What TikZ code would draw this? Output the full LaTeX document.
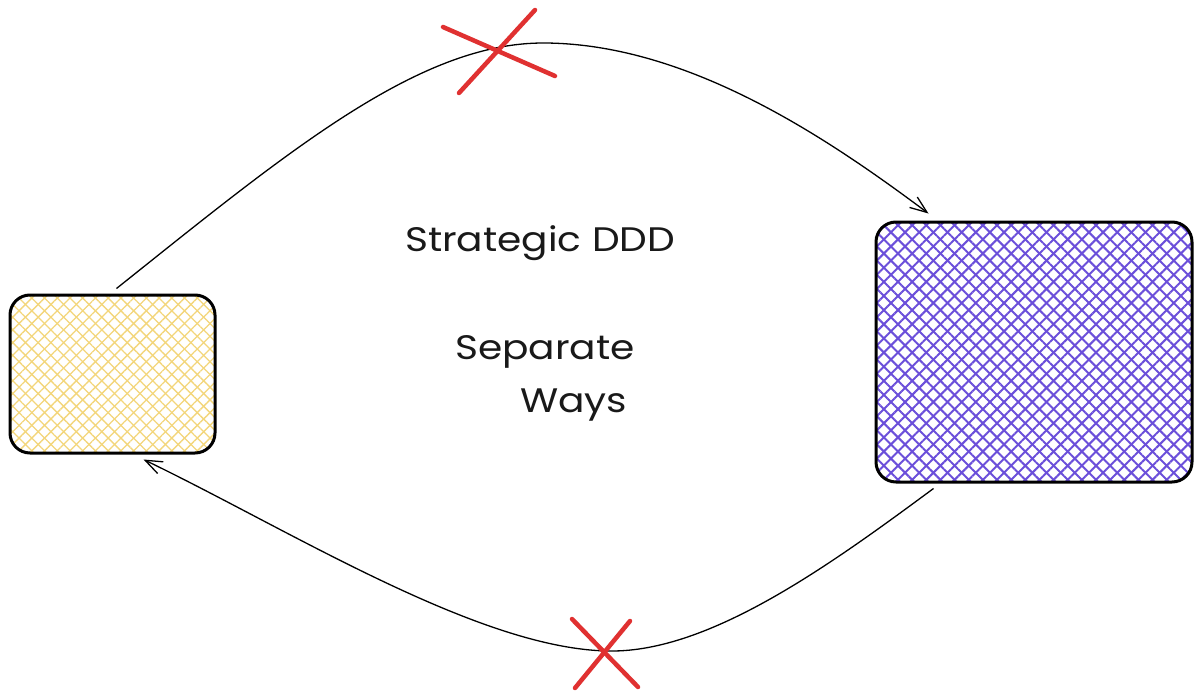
\documentclass[tikz,border=0pt]{standalone}
\usepackage{fontspec}
\setmainfont[FakeStretch=1.15]{Poppins}
\usetikzlibrary{patterns.meta,arrows.meta,calc}
\definecolor{boxyellow}{HTML}{F3D67A}
\definecolor{boxpurple}{HTML}{6B4FDA}
\definecolor{xred}{HTML}{E03131}
\tikzset{
  card/.style={draw=black, line width=3pt, rounded corners=20pt, inner sep=0pt},
  flow/.style={draw=black, line width=1.3pt, -{Straight Barb[length=17pt,width=13pt,line width=1.3pt]}},
  cross/.style={draw=xred, line width=4.5pt, line cap=round},
  label/.style={font=\fontsize{34}{40}\selectfont, text=black!90, inner sep=0pt},
}
\begin{document}
\begin{tikzpicture}[x=1pt,y=-1pt]
\useasboundingbox (0,0) rectangle (1200,699);
\fill[white] (0,0) rectangle (1200,699);
% yellow card
\fill[pattern={Lines[angle=45,distance=9pt,line width=1.3pt]}, pattern color=boxyellow, rounded corners=20pt] (10,295) rectangle (215,453);
\fill[pattern={Lines[angle=-45,distance=9pt,line width=1.3pt]}, pattern color=boxyellow, rounded corners=20pt] (10,295) rectangle (215,453);
\node[card, minimum width=205pt, minimum height=158pt] (yel) at (112.5,374) {};
% purple card
\fill[pattern={Lines[angle=45,distance=10pt,line width=2pt]}, pattern color=boxpurple, rounded corners=20pt] (876,222) rectangle (1192,482);
\fill[pattern={Lines[angle=-45,distance=10pt,line width=2pt]}, pattern color=boxpurple, rounded corners=20pt] (876,222) rectangle (1192,482);
\node[card, minimum width=316pt, minimum height=260pt] (pur) at (1034,352) {};
% connector end points
\coordinate (topstart) at ($(yel.north)+(4,-5)$);
\coordinate (topend) at ($(pur.north west)+(54,-7)$);
\coordinate (botstart) at ($(pur.south west)+(59,5)$);
\coordinate (botend) at ($(yel.south west)+(135,5)$);
\path[flow] (topstart) .. controls (290,150) and (420,42) .. (545,43)
  .. controls (690,44) and (830,140) .. (topend);
\path[flow] (botstart) .. controls (830,565) and (710,652) .. (610,651)
  .. controls (480,650) and (290,530) .. (botend);
% red crosses
\draw[cross] (443,27) -- (555,76);
\draw[cross] (535,10) -- (459,93);
\draw[cross] (572,619) -- (638,687);
\draw[cross] (630,621) -- (575,688);
% texts
\node[label, anchor=west] (t1) at (405,243) {Strategic DDD};
\node[label, anchor=west] (t2) at (455,352) {Separate};
\node[label, anchor=west] (t3) at (520,405) {Ways};
\end{tikzpicture}
\end{document}
